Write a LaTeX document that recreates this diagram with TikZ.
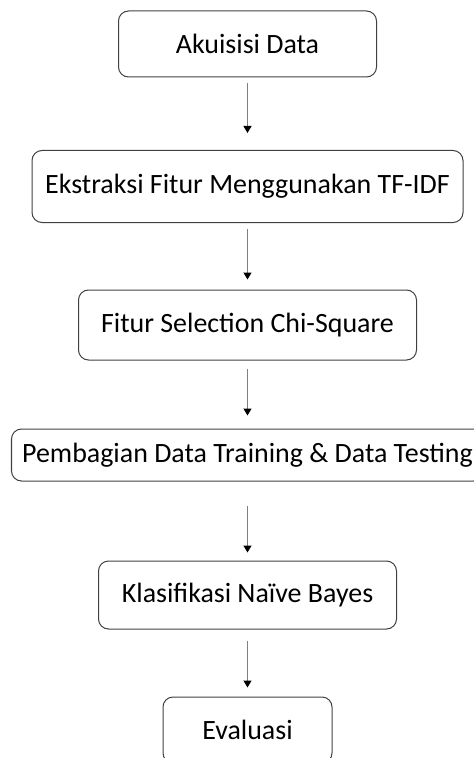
\documentclass[tikz,border=0pt]{standalone}
\usepackage{fontspec}
\setmainfont{Carlito}
\usetikzlibrary{arrows.meta}

\begin{document}
\begin{tikzpicture}
        [every node/.style={draw=black!75,rounded corners=0.2cm,line width=0.02cm,inner sep=0,font=\fontsize{15.9}{19}\selectfont},
         alur/.style={draw=black!50,line width=0.026cm,-{Triangle[width=0.16cm,length=0.14cm,black]}}]

        \useasboundingbox (0,0) rectangle (9.46,-15.16);

        \node[minimum width=5.16cm,minimum height=1.32cm] (akuisisi) at (4.95,-0.88) {Akuisisi Data};
        \node[minimum width=8.62cm,minimum height=1.44cm] (ekstraksi) at (4.95,-3.73) {Ekstraksi Fitur Menggunakan TF-IDF};
        \node[minimum width=6.76cm,minimum height=1.40cm] (seleksi) at (4.95,-6.50) {Fitur Selection Chi-Square};
        \node[minimum width=9.44cm,minimum height=1.04cm] (pembagian) at (4.95,-9.10) {Pembagian Data Training \& Data Testing};
        \node[minimum width=5.96cm,minimum height=1.36cm] (klasifikasi) at (4.95,-11.90) {Klasifikasi Naïve Bayes};
        \node[minimum width=3.38cm,minimum height=1.32cm] (evaluasi) at (4.95,-14.60) {Evaluasi};

        \draw[alur,shorten <=0.12cm,shorten >=0.34cm] (akuisisi) -- (ekstraksi);
        \draw[alur,shorten <=0.12cm,shorten >=0.20cm] (ekstraksi) -- (seleksi);
        \draw[alur,shorten <=0.16cm,shorten >=0.26cm] (seleksi) -- (pembagian);
        \draw[alur,shorten <=0.48cm,shorten >=0.16cm] (pembagian) -- (klasifikasi);
        \draw[alur,shorten <=0.22cm,shorten >=0.18cm] (klasifikasi) -- (evaluasi);

      \end{tikzpicture}
\end{document}
